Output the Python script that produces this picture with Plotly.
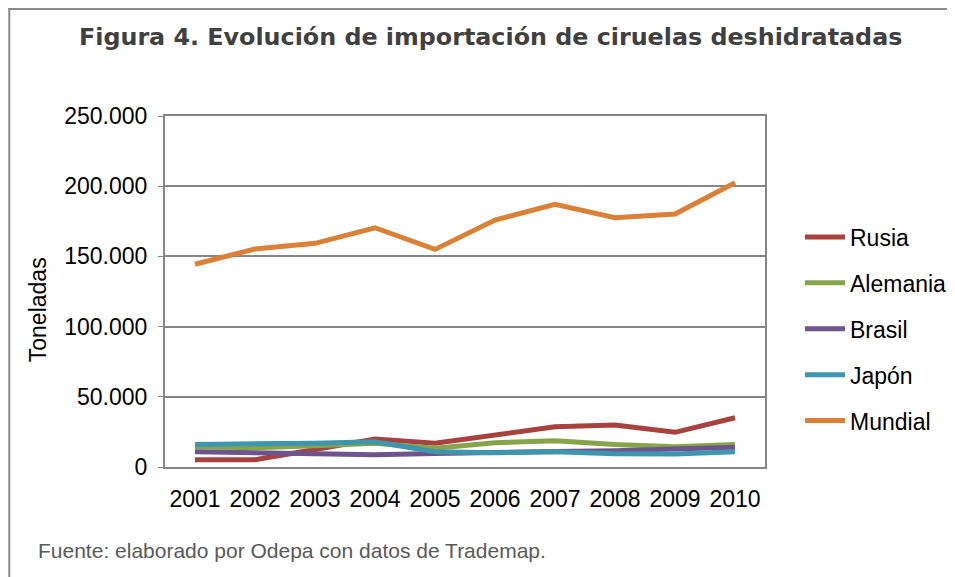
import plotly.graph_objects as go

years = ["2001", "2002", "2003", "2004", "2005", "2006", "2007", "2008", "2009", "2010"]
rusia = [5200, 5200, 12400, 19900, 16900, 22800, 28700, 29900, 24700, 35100]
alemania = [14500, 13700, 15200, 16900, 13300, 17300, 18700, 16100, 14500, 16100]
brasil = [10900, 10400, 9700, 8800, 9700, 10700, 11100, 11600, 13000, 14000]
japon = [16100, 16100, 16900, 18000, 10900, 10200, 10900, 9500, 9300, 10900]
mundial = [144400, 155300, 159300, 170400, 155000, 175900, 187100, 177600, 180200, 202500]

series = [
    ("Rusia", rusia, "#A8423F"),
    ("Alemania", alemania, "#86A44A"),
    ("Brasil", brasil, "#6E548D"),
    ("Japón", japon, "#3D96AE"),
    ("Mundial", mundial, "#DA8137"),
]

# figure is placed at page offset (8, 8) by the default html body margin
W, H = 955, 569
L, R, T, B = 157, 197, 108, 110
PW, PH = W - L - R, H - T - B


def px(x):
    return (x - 8 - L) / PW


def py(y):
    return (H - B - (y - 8)) / PH


fig = go.Figure()
for name, vals, color in series:
    fig.add_trace(go.Scatter(
        x=years, y=vals, name=name, mode="lines",
        line=dict(color=color, width=5), legendgroup=name,
    ))

fig.update_layout(
    width=W, height=H,
    margin=dict(l=L, r=R, t=T, b=B),
    paper_bgcolor="white", plot_bgcolor="white",
    separators=",.",
    font=dict(family="Liberation Sans, Arial, sans-serif", size=23, color="black"),
    showlegend=True,
    legend=dict(
        x=px(800), y=py(329), xanchor="left", yanchor="middle",
        font=dict(size=23, color="black"),
        tracegroupgap=13, itemwidth=40,
        bgcolor="rgba(0,0,0,0)",
    ),
    xaxis=dict(
        type="category", range=[-0.5, len(years) - 0.5],
        showgrid=False, zeroline=False,
        showline=True, linecolor="#868686", linewidth=2, mirror=True,
        ticks="", tickfont=dict(size=23), ticklabelstandoff=10,
    ),
    yaxis=dict(
        range=[0, 250000], dtick=50000, tickformat=",d",
        showgrid=True, gridcolor="#868686", gridwidth=1.5,
        showline=True, linecolor="#868686", linewidth=2, mirror=True,
        ticks="outside", ticklen=5, tickcolor="#868686",
        zeroline=False, tickfont=dict(size=23), ticklabelstandoff=6,
    ),
    annotations=[
        dict(text="<b>Figura 4. Evolución de importación de ciruelas deshidratadas</b>",
             xref="paper", yref="paper", x=px(491), y=py(37),
             xanchor="center", yanchor="middle", showarrow=False,
             font=dict(family="DejaVu Sans, Verdana, sans-serif", size=23.8, color="#404040")),
        dict(text="Toneladas", xref="paper", yref="paper",
             x=px(38), y=py(310), textangle=-90,
             xanchor="center", yanchor="middle", showarrow=False,
             font=dict(size=23, color="black")),
        dict(text="Fuente: elaborado por Odepa con datos de Trademap.",
             xref="paper", yref="paper", x=px(36), y=py(550),
             xanchor="left", yanchor="middle", showarrow=False,
             font=dict(size=21, color="#595959")),
    ],
    shapes=[
        dict(type="line", xref="paper", yref="paper",
             x0=px(8), x1=px(965), y0=py(9), y1=py(9),
             line=dict(color="#8C8C8C", width=2)),
        dict(type="line", xref="paper", yref="paper",
             x0=px(9), x1=px(9), y0=py(8), y1=py(580),
             line=dict(color="#8C8C8C", width=2)),
    ],
)

fig.write_html("out.html")
